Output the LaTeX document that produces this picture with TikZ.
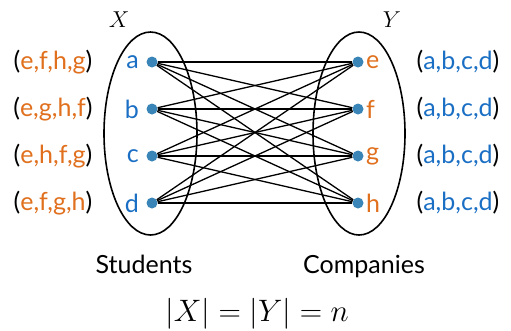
\RequirePackage{fix-cm}
\documentclass[tikz,border=0pt]{standalone}
\usepackage{fontspec}
\setmainfont{Lato}
\usetikzlibrary{positioning}
\definecolor{PrefBlue}{HTML}{1A6FC4}
\definecolor{PrefOrange}{HTML}{E0701E}
\definecolor{DotBlue}{HTML}{3A85B8}
\tikzset{
    every node/.style={font=\fontsize{25}{30}\selectfont},
    % Vertex dot style
    vertex/.style={
        circle,
        fill=DotBlue,
        inner sep=0pt,
        minimum size=11pt
    },
    % Vertex letter styles
    student/.style={text=PrefBlue, inner sep=0pt, anchor=east},
    company/.style={text=PrefOrange, inner sep=0pt, anchor=west},
    % Preference list
    preflist/.style={inner sep=0pt},
    % Edge style
    edge/.style={line width=1.3pt},
    % Side set outline
    side/.style={draw, line width=1.6pt},
    % Set name
    setname/.style={font=\fontsize{23}{27}\selectfont}
}
\newcommand{\ora}[1]{\textcolor{PrefOrange}{#1}}
\newcommand{\blu}[1]{\textcolor{PrefBlue}{#1}}
\begin{document}
\begin{tikzpicture}[x=1pt, y=-1pt]
    \useasboundingbox (0,0) rectangle (511,330);

    % Set outlines
    \draw [side] (150.5,133.5) ellipse [x radius=46.5, y radius=101.5];
    \draw [side] (359,133.5) ellipse [x radius=46, y radius=101.5];
    \node (xlabel) [setname] at (119,20) {$X$};
    \node (ylabel) [setname] at (392,20) {$Y$};

    % Vertices
    \node (a) [vertex] at (152,62) {};
    \node (b) [vertex] at (152,109) {};
    \node (c) [vertex] at (152,156) {};
    \node (d) [vertex] at (152,203) {};
    \node (e) [vertex] at (358,62) {};
    \node (f) [vertex] at (358,109) {};
    \node (g) [vertex] at (358,156) {};
    \node (h) [vertex] at (358,203) {};

    % Complete bipartite edges
    \foreach \s in {a,b,c,d}
        \foreach \t in {e,f,g,h}
            \draw [edge] (\s) -- (\t);

    % Vertex letters
    \node (la) [student] at (139,62) {a};
    \node (lb) [student] at (139,109) {b};
    \node (lc) [student] at (139,156) {c};
    \node (ld) [student] at (139,203) {d};
    \node (le) [company] at (366,62) {e};
    \node (lf) [company] at (366,109) {f};
    \node (lg) [company] at (366,156) {g};
    \node (lh) [company] at (366,203) {h};

    % Preference lists
    \node (pa) [preflist] at (53,62) {(\ora{e,f,h,g})};
    \node (pb) [preflist] at (53,109) {(\ora{e,g,h,f})};
    \node (pc) [preflist] at (53,156) {(\ora{e,h,f,g})};
    \node (pd) [preflist] at (53,203) {(\ora{e,f,g,h})};
    \node (pe) [preflist] at (458,62) {(\blu{a,b,c,d})};
    \node (pf) [preflist] at (458,109) {(\blu{a,b,c,d})};
    \node (pg) [preflist] at (458,156) {(\blu{a,b,c,d})};
    \node (ph) [preflist] at (458,203) {(\blu{a,b,c,d})};

    % Captions
    \node (students) [anchor=base] at (144,273) {Students};
    \node (companies) [anchor=base] at (364,273) {Companies};
    \node (size) [anchor=base, font=\fontsize{31}{36}\selectfont] at (257,321) {$|X|=|Y|=n$};
\end{tikzpicture}
\end{document}
